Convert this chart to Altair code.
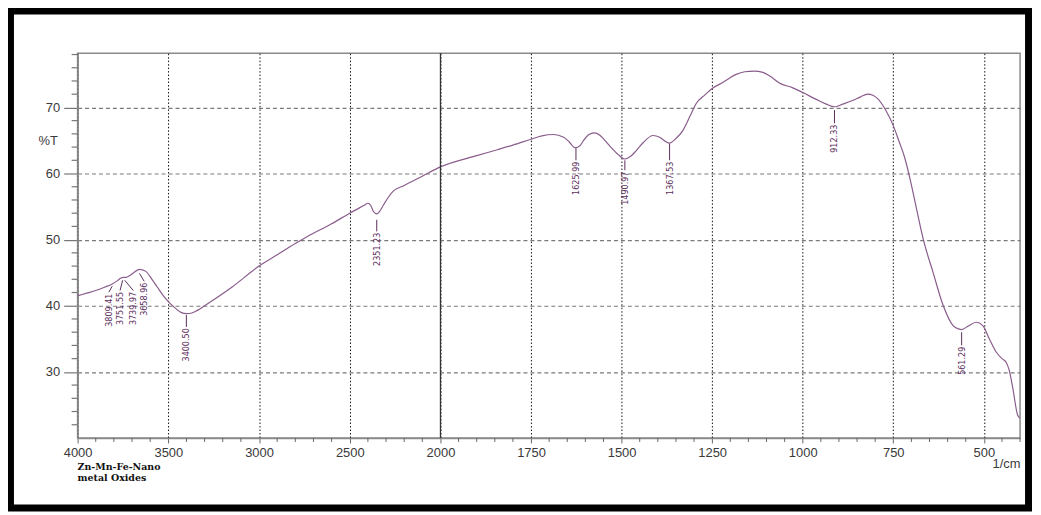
import altair as alt
import pandas as pd

# ---- spectrum ----
wavenumber = [4000, 3950, 3900, 3852, 3809, 3780, 3761, 3745, 3733, 3700, 3660, 3640, 3624,
              3590, 3560, 3530, 3496, 3460, 3430, 3400, 3370, 3340, 3300, 3250, 3150, 3000,
              2900, 2800, 2738, 2600, 2500, 2420, 2400, 2385, 2370, 2351, 2335, 2315, 2290,
              2263, 2200, 2100, 2000, 1900, 1843, 1800, 1752, 1720, 1688, 1660, 1645, 1628,
              1615, 1605, 1590, 1576, 1560, 1550, 1530, 1510, 1491, 1475, 1459, 1440, 1413,
              1395, 1380, 1368, 1350, 1331, 1310, 1294, 1270, 1249, 1220, 1184, 1160, 1134,
              1110, 1090, 1061, 1029, 1000, 964, 935, 912, 890, 864, 840, 821, 805, 792, 770,
              750, 735, 719, 703, 692, 667, 640, 612, 585, 570, 561, 544, 521, 503, 485, 466,
              450, 439, 430, 420, 407, 401]
transmittance = [41.5, 41.9, 42.3, 42.8, 43.3, 43.8, 44.2, 44.3, 44.3, 44.8, 45.5, 45.4, 45.2,
                 44.0, 42.8, 41.6, 40.5, 39.6, 39.0, 38.8, 38.9, 39.3, 40.0, 40.9, 42.8, 46.0,
                 47.7, 49.4, 50.4, 52.4, 54.0, 55.2, 55.5, 55.2, 54.3, 53.9, 54.3, 55.2, 56.3,
                 57.25, 58.2, 59.6, 61.0, 62.7, 63.6, 64.3, 65.15, 65.7, 65.9, 65.5, 64.8, 63.9,
                 64.2, 65.0, 65.9, 66.15, 65.8, 65.25, 64.0, 62.9, 62.2, 62.6, 63.5, 64.7, 65.75,
                 65.5, 64.9, 64.6, 65.3, 66.5, 68.8, 70.6, 71.9, 72.9, 73.8, 75.0, 75.4, 75.5,
                 75.3, 74.7, 73.6, 73.0, 72.25, 71.25, 70.5, 70.1, 70.5, 71.0, 71.6, 72.0, 71.8,
                 71.25, 69.5, 67.25, 65.0, 62.5, 59.0, 56.25, 50.0, 45.0, 40.0, 37.0, 36.5, 36.4,
                 36.9, 37.5, 37.0, 35.0, 33.0, 32.0, 31.5, 30.25, 27.5, 23.5, 23.0]

# ---- peak annotations ----
peak_names = ["3809.41", "3751.55", "3739.97", "3658.96", "3400.50", "2351.23",
              "1625.99", "1490.97", "1367.53", "912.33", "561.29"]
peak_wn = [3809.41, 3751.55, 3739.97, 3658.96, 3400.50, 2351.23,
           1625.99, 1490.97, 1367.53, 912.33, 561.29]
peak_T = [42.95, 43.85, 43.85, 44.9, 38.6, 53.0, 63.9, 62.0, 64.5, 69.6, 36.0]
label_wn = [3828, 3766, 3693, 3633, 3400.50, 2351.23, 1625.99, 1490.97, 1367.53, 912.33, 561.29]
label_T = [42.05, 42.3, 42.3, 43.7, 36.8, 51.25, 62.0, 60.5, 62.0, 67.6, 34.0]

# ---- axes ----
x_major = [4000, 3500, 3000, 2500, 2000, 1750, 1500, 1250, 1000, 750, 500]
x_minor = [v for v in range(3900, 2000, -100) if v % 500 != 0] + \
          [v for v in range(1950, 399, -50) if v % 250 != 0]
y_major = [30, 40, 50, 60, 70]
y_minor = [v for v in range(22, 79, 2) if v % 10 != 0]
caption = "Zn-Mn-Fe-Nano\nmetal Oxides"

LINE = "#8a5c8c"
LABEL = "#5c2e5c"
AXC = "#3a3a3a"
NARROW = "Liberation Sans Narrow, Arial Narrow, DejaVu Sans Condensed, sans-serif"

W, H = 948, 387
SVG_H = 505

curve = pd.DataFrame({"wn": wavenumber, "T": transmittance, "idx": list(range(len(wavenumber)))})
peaks = pd.DataFrame({"name": peak_names, "wn": peak_wn, "T": peak_T,
                      "lwn": label_wn, "lT": label_T})
peaks["tT"] = peaks["lT"] - 0.2
xm = pd.DataFrame({"wn": x_minor})
ym = pd.DataFrame({"T": y_minor})
brk = pd.DataFrame({"wn": [2000]})
one = pd.DataFrame({"t": [caption]})

x_scale = alt.Scale(domain=[4000, 2000, 400], range=[0, 365, W], nice=False, zero=False)
y_scale = alt.Scale(domain=[20, 78.2], nice=False, zero=False)

line = alt.Chart(curve).mark_line(color=LINE, strokeWidth=1.2, interpolate="monotone").encode(
    x=alt.X("wn:Q", scale=x_scale, axis=alt.Axis(
        values=x_major, format="d", title="1/cm", titleX=W, titleY=26, titleAlign="right",
        titleBaseline="middle", titleFontWeight="normal", titleFontSize=13, titleColor=AXC,
        titleFont="Liberation Sans",
        labelFontSize=13, labelColor=AXC, labelFont="Liberation Sans", labelFlush=False,
        labelOverlap=False, labelPadding=4, tickSize=5, tickColor="#666",
        domainColor="#8a8a8a", domainWidth=1.5,
        grid=True, gridColor="#111", gridDash=[1.5, 2], gridWidth=1)),
    y=alt.Y("T:Q", scale=y_scale, axis=alt.Axis(
        values=y_major, format="d", title="%T", titleAngle=0, titleX=-30, titleY=88,
        titleAlign="center",
        titleBaseline="middle", titleFontWeight="normal", titleFontSize=13, titleColor=AXC,
        titleFont="Liberation Sans",
        labelFontSize=13, labelColor=AXC, labelFont="Liberation Sans", labelFlush=False,
        labelPadding=4, tickSize=14, tickColor="#777", tickWidth=1.2,
        domainColor="#8a8a8a", domainWidth=1.5,
        grid=True, gridColor="#7a7a7a", gridDash=[4, 3], gridWidth=1.2)),
    order="idx:Q",
)

xticks = alt.Chart(xm).mark_rule(color="#666", strokeWidth=1).encode(
    x=alt.X("wn:Q", scale=x_scale), y=alt.value(H), y2=alt.value(H + 4))
yticks = alt.Chart(ym).mark_rule(color="#777", strokeWidth=1.2).encode(
    y=alt.Y("T:Q", scale=y_scale), x=alt.value(-6), x2=alt.value(0))
brk_rule = alt.Chart(brk).mark_rule(color="#333", strokeWidth=1.3).encode(
    x=alt.X("wn:Q", scale=x_scale), y=alt.value(0), y2=alt.value(H))

leaders = alt.Chart(peaks).mark_rule(color=LABEL, strokeWidth=1).encode(
    x=alt.X("wn:Q", scale=x_scale), y=alt.Y("T:Q", scale=y_scale),
    x2="lwn:Q", y2="lT:Q")
texts = alt.Chart(peaks).mark_text(angle=270, align="right", baseline="middle",
                                   font=NARROW, fontSize=9, color=LABEL).encode(
    x=alt.X("lwn:Q", scale=x_scale), y=alt.Y("tT:Q", scale=y_scale),
    text="name:N")

cap = alt.Chart(one).mark_text(align="left", baseline="middle", font="DejaVu Serif",
                               fontWeight="bold", fontSize=9.5, lineBreak="\n", lineHeight=11,
                               color="#111").encode(
    x=alt.value(0), y=alt.value(416), text="t:N")

border = alt.Chart(one).mark_rect(fillOpacity=0, stroke="black", strokeWidth=7).encode(
    x=alt.value(-67.5), x2=alt.value(956.5), y=alt.value(-42.5),
    y2=alt.value(SVG_H - 44 - 3.5))

chart = alt.layer(line, brk_rule, xticks, yticks, leaders, texts, cap, border).properties(
    width=W, height=H,
    autosize=alt.AutoSizeParams(type="none"),
    padding={"left": 70, "top": 44, "right": 13, "bottom": SVG_H - 44 - H},
    background="white",
).configure_view(stroke="#8a8a8a", strokeWidth=1.5)

chart.save("out.html", embed_options={"renderer": "svg", "actions": False})
